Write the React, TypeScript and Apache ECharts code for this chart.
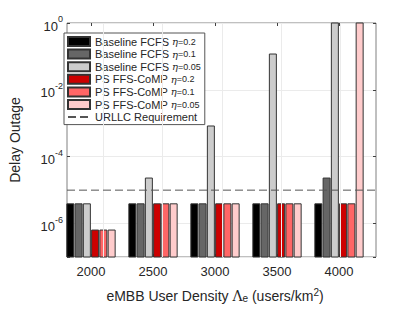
import React, { useEffect, useRef } from "react";
import * as echarts from "echarts";

const categories = ["2000", "2500", "3000", "3500", "4000"];
const baselineEta02 = [3.9e-6, 3.9e-6, 3.9e-6, 3.9e-6, 3.9e-6];
const baselineEta01 = [3.9e-6, 3.9e-6, 3.9e-6, 3.9e-6, 2.3e-5];
const baselineEta005 = [3.9e-6, 2.3e-5, 8.3e-4, 0.118, 1];
const psEta02 = [6.4e-7, 3.9e-6, 3.9e-6, 3.9e-6, 3.9e-6];
const psEta01 = [6.4e-7, 3.9e-6, 3.9e-6, 3.9e-6, 3.9e-6];
const psEta005 = [6.4e-7, 3.9e-6, 3.9e-6, 3.9e-6, 1];
const urllcRequirement = 1e-5;
const xGridValues = [2000, 2500, 3000, 3500, 4000];

const seriesNames = [
  "Baseline FCFS η=0.2",
  "Baseline FCFS η=0.1",
  "Baseline FCFS η=0.05",
  "PS FFS-CoMP η=0.2",
  "PS FFS-CoMP η=0.1",
  "PS FFS-CoMP η=0.05",
];
const seriesData = [baselineEta02, baselineEta01, baselineEta005, psEta02, psEta01, psEta005];
const seriesColors = ["#000000", "#666666", "#cccccc", "#cc0000", "#ff6666", "#ffcccc"];
const urllcName = "URLLC Requirement";

const FONT = "Liberation Sans, Arial, Helvetica, sans-serif";
const SERIF = "DejaVu Serif, Liberation Serif, serif";
const Y_MIN = 1e-7;
const Y_MAX = 1;
// decades below 10^0 (for the tick/grid helper axis, 0 = 10^0 at top)
const DECADES_MIN = 0;
const DECADES_MAX = 7;

export default function App() {
  const ref = useRef<HTMLDivElement>(null);
  useEffect(() => {
    if (!ref.current) return;
    const chart = echarts.init(ref.current, null, { renderer: "svg" });
    const gridTop = 23;
    const gridBottom = 312 - 257;
    const barW = 7;
    const barStep = 8.26;
    const tickStyle = { show: true, inside: true, length: 3, lineStyle: { color: "#404040", width: 1 } };
    const barSeries = seriesNames.map((name, i) => ({
      name,
      type: "custom",
      xAxisIndex: 1,
      yAxisIndex: 1,
      data: seriesData[i].map((v, j) => [j, v]),
      encode: { x: 0, y: 1 },
      z: 3,
      itemStyle: { color: seriesColors[i], borderColor: "#333333", borderWidth: 1 },
      renderItem: (params: any, api: any) => {
        const cat = api.value(0);
        const v = api.value(1);
        const top = api.coord([cat, v]);
        const base = api.coord([cat, Y_MIN]);
        const offset = (i - 2.5) * barStep;
        return {
          type: "rect",
          shape: { x: top[0] + offset - barW / 2, y: top[1], width: barW, height: base[1] - top[1] },
          style: api.style(),
        };
      },
    }));
    const option: any = {
      animation: false,
      textStyle: { fontFamily: FONT },
      grid: [
        { left: 53, width: 323, top: gridTop, bottom: gridBottom, show: true, borderColor: "#808080", borderWidth: 1, backgroundColor: "#fff", z: 0 },
        { left: 60, width: 310, top: gridTop, bottom: gridBottom },
      ],
      xAxis: [
        {
          type: "value",
          gridIndex: 0,
          min: 1694,
          max: 4298,
          axisLine: { show: false },
          axisTick: { show: false },
          axisLabel: { show: false },
          splitLine: { show: false },
        },
        {
          type: "category",
          gridIndex: 1,
          data: categories,
          axisLine: { show: false },
          axisTick: { ...tickStyle, alignWithLabel: true },
          axisLabel: { color: "#262626", fontSize: 13, margin: 8, fontFamily: FONT },
          splitLine: { show: false },
          name: "{a|eMBB User Density }{g|Λ}{sub|e}{a| (users/km}{sup|2}{a|)}",
          nameLocation: "middle",
          nameGap: 30,
          nameTextStyle: {
            color: "#262626",
            rich: {
              a: { fontSize: 14, fontFamily: FONT, color: "#262626", padding: [0, 0, 4, 0] },
              g: { fontSize: 14, fontFamily: SERIF, color: "#262626", padding: [0, 0, 4, 0] },
              sub: { fontSize: 10, fontFamily: FONT, color: "#262626" },
              sup: { fontSize: 10, fontFamily: FONT, color: "#262626", padding: [0, 0, 12, 0] },
            },
          },
        },
        {
          type: "category",
          gridIndex: 1,
          position: "top",
          data: categories,
          axisLine: { show: false },
          axisTick: { ...tickStyle, alignWithLabel: true },
          axisLabel: { show: false },
          splitLine: { show: false },
        },
      ],
      yAxis: [
        {
          type: "log",
          gridIndex: 0,
          logBase: 10,
          min: Y_MIN,
          max: Y_MAX,
          interval: 1,
          axisLine: { show: false },
          axisTick: { show: false },
          splitLine: { show: false },
          axisLabel: {
            margin: 4,
            formatter: (v: number) => {
              const e = Math.round(Math.log10(v));
              if (e % 2 !== 0) return "";
              return `{b|10}{s|${e}}`;
            },
            rich: {
              b: { fontSize: 13, fontFamily: FONT, color: "#262626", padding: [6, 0, 0, 0] },
              s: { fontSize: 9, fontFamily: FONT, color: "#262626", padding: [0, 0, 8, 0] },
            },
          },
          name: "Delay Outage",
          nameLocation: "middle",
          nameGap: 45,
          nameTextStyle: { fontSize: 14, color: "#262626", fontFamily: FONT },
        },
        {
          type: "log",
          gridIndex: 1,
          logBase: 10,
          min: Y_MIN,
          max: Y_MAX,
          show: false,
        },
        {
          type: "value",
          gridIndex: 0,
          inverse: true,
          min: DECADES_MIN,
          max: DECADES_MAX,
          interval: 2,
          position: "left",
          axisLine: { show: false },
          axisTick: tickStyle,
          axisLabel: { show: false },
          splitLine: { show: true, lineStyle: { color: "#ebebeb", width: 1 } },
        },
        {
          type: "value",
          gridIndex: 0,
          inverse: true,
          min: DECADES_MIN,
          max: DECADES_MAX,
          interval: 2,
          position: "right",
          axisLine: { show: false },
          axisTick: tickStyle,
          axisLabel: { show: false },
          splitLine: { show: false },
        },
      ],
      legend: {
        orient: "vertical",
        left: 64,
        top: 33,
        padding: [3, 4, 2, 3],
        itemWidth: 22,
        itemHeight: 9,
        itemGap: 1.6,
        backgroundColor: "#ffffff",
        borderColor: "#555555",
        borderWidth: 1,
        borderRadius: 0,
        data: [
          ...seriesNames.map((name) => ({ name, icon: "rect" })),
          { name: urllcName, itemStyle: { opacity: 0 } },
        ],
        formatter: (name: string) => {
          const idx = name.indexOf("η");
          if (idx < 0) return `{t|${name}}`;
          return `{t|${name.slice(0, idx)}}{e|η}{n|${name.slice(idx + 1)}}`;
        },
        textStyle: {
          fontSize: 11,
          color: "#262626",
          rich: {
            t: { fontSize: 11, fontFamily: FONT, color: "#262626" },
            e: { fontSize: 10, fontFamily: SERIF, fontStyle: "italic", color: "#262626" },
            n: { fontSize: 9, fontFamily: FONT, color: "#262626" },
          },
        },
      },
      series: [
        {
          name: "gridlines",
          type: "line",
          xAxisIndex: 0,
          yAxisIndex: 0,
          data: [],
          z: 1,
          markLine: {
            silent: true,
            symbol: "none",
            label: { show: false },
            lineStyle: { color: "#ebebeb", type: "solid", width: 1 },
            data: xGridValues.map((x) => ({ xAxis: x })),
          },
        },
        ...barSeries,
        {
          name: urllcName,
          type: "line",
          xAxisIndex: 0,
          yAxisIndex: 0,
          data: [
            [1694, urllcRequirement],
            [4298, urllcRequirement],
          ],
          symbol: "none",
          z: 5,
          lineStyle: { color: "#555555", type: [8, 4], width: 1 },
          itemStyle: { color: "#555555" },
        },
      ],
    };
    chart.setOption(option);
    return () => chart.dispose();
  }, []);
  return <div ref={ref} style={{ position: "absolute", left: 0, top: 0, width: 415, height: 312 }} />;
}
